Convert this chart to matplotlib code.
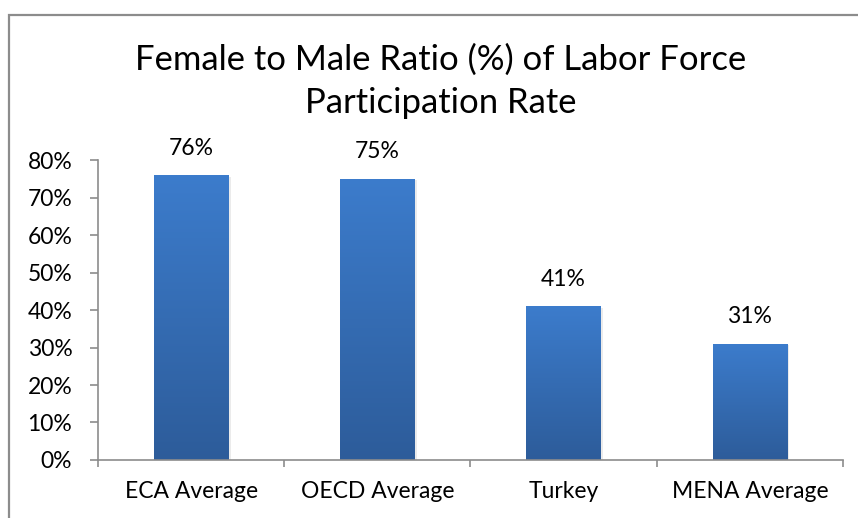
import numpy as np
import matplotlib
matplotlib.use('Agg')
import matplotlib.pyplot as plt
from matplotlib.patches import Rectangle
from matplotlib.colors import LinearSegmentedColormap
from matplotlib.ticker import PercentFormatter

plt.rcParams['font.family'] = ['Lato', 'DejaVu Sans']

categories = ['ECA Average', 'OECD Average', 'Turkey', 'MENA Average']
ratios = [0.76, 0.75, 0.41, 0.31]
labels = ['76%', '75%', '41%', '31%']
yticks = [0, 0.1, 0.2, 0.3, 0.4, 0.5, 0.6, 0.7, 0.8]

fig = plt.figure(figsize=(8.58, 5.18), dpi=100)
ax = fig.add_axes([0.1142, 0.112, 0.8683, 0.579])

# outer chart border
fig.patches.append(Rectangle((9 / 858, -0.1), 2, 1 - 15 / 518 + 0.1,
                             transform=fig.transFigure, fill=False,
                             edgecolor='#8c8c8c', linewidth=1.6, zorder=0))

x = np.arange(len(categories))
width = 0.4
bars = ax.bar(x, ratios, width=width, color='none', edgecolor='none', zorder=2)

# vertical gradient on each bar
cmap = LinearSegmentedColormap.from_list('bar', ['#2d5c9a', '#3c7ccc'])
grad = np.linspace(0, 1, 256).reshape(-1, 1)
for b in bars:
    x0, y0 = b.get_x(), b.get_y()
    w, h = b.get_width(), b.get_height()
    # faint shadow
    ax.add_patch(Rectangle((x0 + 0.012, y0), w, h - 0.004, facecolor='#000000',
                           alpha=0.08, edgecolor='none', zorder=1))
    im = ax.imshow(grad, cmap=cmap, origin='lower', aspect='auto',
                   extent=(x0, x0 + w, y0, y0 + h), zorder=2)
    im.set_clip_path(b)

for xi, v, lab in zip(x, ratios, labels):
    ax.text(xi, v + 0.072, lab, ha='center', va='center', fontsize=16.5)

ax.set_xlim(-0.5, len(categories) - 0.5)
ax.set_ylim(0, 0.8)
ax.set_yticks(yticks)
ax.yaxis.set_major_formatter(PercentFormatter(1.0, decimals=0))
ax.set_xticks(x)
ax.set_xticklabels(categories)
ax.set_xticks(np.arange(len(categories) + 1) - 0.5, minor=True)
ax.tick_params(axis='x', which='major', length=0, pad=15, labelsize=16.5)
ax.tick_params(axis='x', which='minor', length=5, color='#8c8c8c', width=1.2)
ax.tick_params(axis='y', length=6, color='#8c8c8c', width=1.2, pad=12.5, labelsize=16.5)

for s in ['top', 'right']:
    ax.spines[s].set_visible(False)
for s in ['left', 'bottom']:
    ax.spines[s].set_color('#8c8c8c')
    ax.spines[s].set_linewidth(1.2)

fig.text(441 / 858, 1 - 81 / 518, 'Female to Male Ratio (%) of Labor Force\nParticipation Rate',
         ha='center', va='center', fontsize=24.9, linespacing=1.44)

fig.savefig('out.png', dpi=100)
